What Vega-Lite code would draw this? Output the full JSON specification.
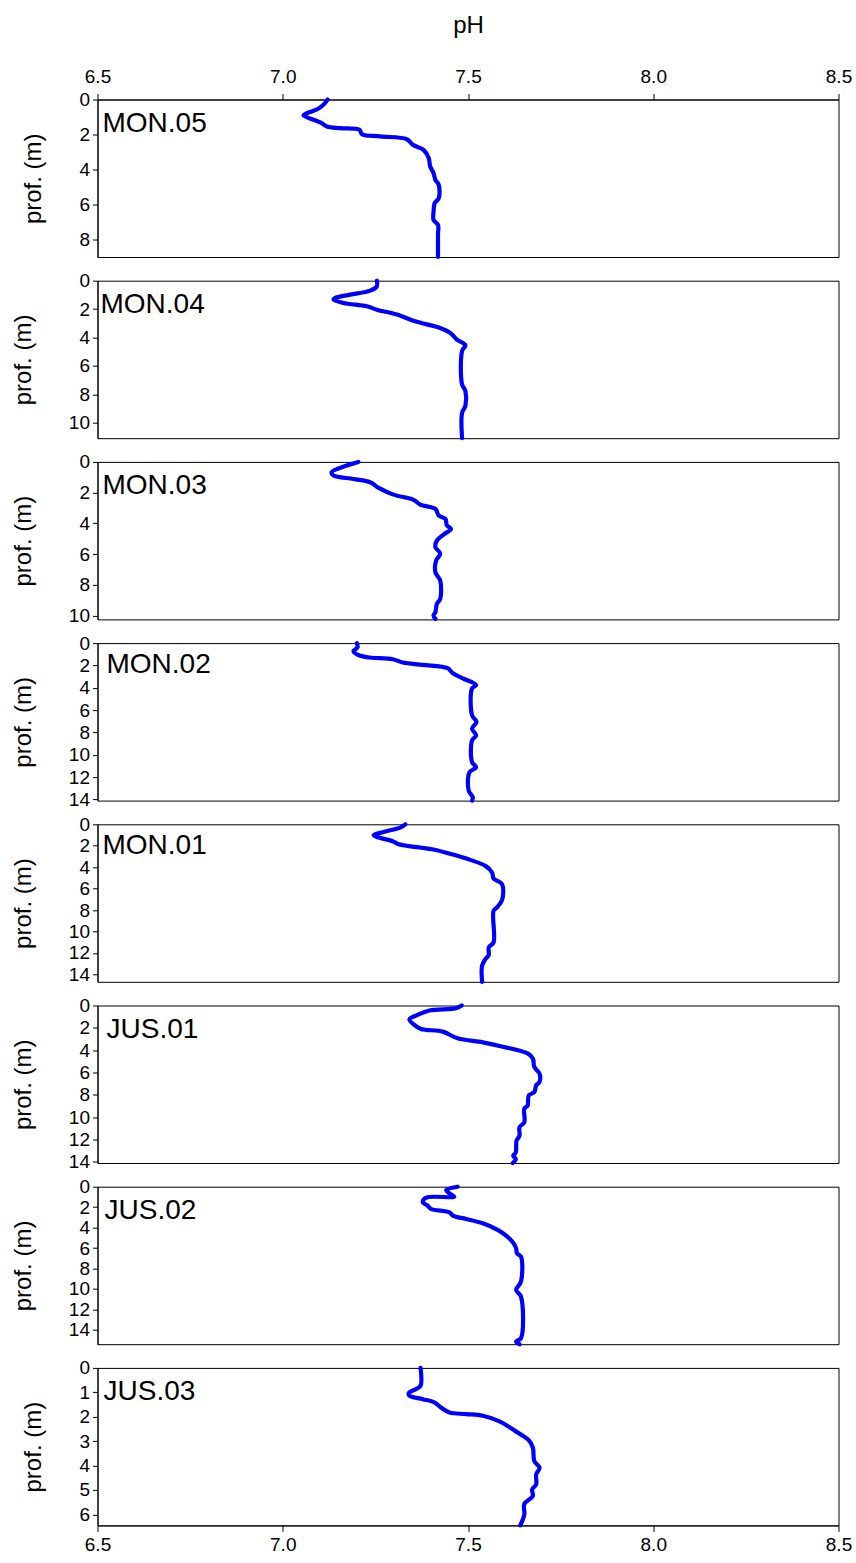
{
  "$schema": "https://vega.github.io/schema/vega-lite/v6.json",
  "padding": {"left": 10.5, "top": 12.5, "right": 5, "bottom": 5},
  "spacing": 23.2,
  "bounds": "flush",
  "config": {
    "font": "Liberation Sans",
    "view": {"stroke": "#000000", "strokeWidth": 1},
    "axis": {
      "grid": false,
      "labelFont": "Liberation Sans",
      "titleFont": "Liberation Sans",
      "labelFontSize": 19,
      "titleFontSize": 24,
      "titleFontWeight": "normal",
      "labelColor": "#000000",
      "titleColor": "#000000",
      "domainColor": "#000000",
      "tickColor": "#000000",
      "labelOverlap": false
    },
    "axisY": {"tickSize": 5, "labelPadding": 3, "titlePadding": 33},
    "axisX": {"tickSize": 6, "labelPadding": 4, "labelFlush": false},
    "line": {"interpolate": "catmull-rom"}
  },
  "datasets": {
    "profiles": [
      {"site": "MON.05", "depth": 0, "pH": 7.121},
      {"site": "MON.05", "depth": 0.21, "pH": 7.114},
      {"site": "MON.05", "depth": 0.53, "pH": 7.096},
      {"site": "MON.05", "depth": 0.78, "pH": 7.065},
      {"site": "MON.05", "depth": 0.91, "pH": 7.056},
      {"site": "MON.05", "depth": 1.16, "pH": 7.083},
      {"site": "MON.05", "depth": 1.35, "pH": 7.105},
      {"site": "MON.05", "depth": 1.54, "pH": 7.119},
      {"site": "MON.05", "depth": 1.64, "pH": 7.155},
      {"site": "MON.05", "depth": 1.73, "pH": 7.207},
      {"site": "MON.05", "depth": 1.98, "pH": 7.214},
      {"site": "MON.05", "depth": 2.11, "pH": 7.263},
      {"site": "MON.05", "depth": 2.27, "pH": 7.335},
      {"site": "MON.05", "depth": 2.59, "pH": 7.351},
      {"site": "MON.05", "depth": 2.88, "pH": 7.38},
      {"site": "MON.05", "depth": 3.35, "pH": 7.394},
      {"site": "MON.05", "depth": 3.83, "pH": 7.398},
      {"site": "MON.05", "depth": 4.21, "pH": 7.407},
      {"site": "MON.05", "depth": 4.59, "pH": 7.412},
      {"site": "MON.05", "depth": 4.88, "pH": 7.421},
      {"site": "MON.05", "depth": 5.64, "pH": 7.421},
      {"site": "MON.05", "depth": 5.92, "pH": 7.41},
      {"site": "MON.05", "depth": 6.4, "pH": 7.407},
      {"site": "MON.05", "depth": 6.88, "pH": 7.407},
      {"site": "MON.05", "depth": 7.16, "pH": 7.419},
      {"site": "MON.05", "depth": 7.73, "pH": 7.419},
      {"site": "MON.05", "depth": 9.0, "pH": 7.419},

      {"site": "MON.04", "depth": 0, "pH": 7.254},
      {"site": "MON.04", "depth": 0.4, "pH": 7.254},
      {"site": "MON.04", "depth": 0.7, "pH": 7.236},
      {"site": "MON.04", "depth": 0.98, "pH": 7.182},
      {"site": "MON.04", "depth": 1.22, "pH": 7.141},
      {"site": "MON.04", "depth": 1.33, "pH": 7.137},
      {"site": "MON.04", "depth": 1.57, "pH": 7.164},
      {"site": "MON.04", "depth": 1.8, "pH": 7.227},
      {"site": "MON.04", "depth": 2.04, "pH": 7.254},
      {"site": "MON.04", "depth": 2.39, "pH": 7.308},
      {"site": "MON.04", "depth": 2.9, "pH": 7.362},
      {"site": "MON.04", "depth": 3.33, "pH": 7.425},
      {"site": "MON.04", "depth": 3.68, "pH": 7.452},
      {"site": "MON.04", "depth": 4.15, "pH": 7.47},
      {"site": "MON.04", "depth": 4.54, "pH": 7.493},
      {"site": "MON.04", "depth": 4.96, "pH": 7.484},
      {"site": "MON.04", "depth": 7.31, "pH": 7.484},
      {"site": "MON.04", "depth": 7.78, "pH": 7.493},
      {"site": "MON.04", "depth": 8.83, "pH": 7.493},
      {"site": "MON.04", "depth": 9.3, "pH": 7.484},
      {"site": "MON.04", "depth": 11.1, "pH": 7.484},

      {"site": "MON.03", "depth": 0, "pH": 7.204},
      {"site": "MON.03", "depth": 0.24, "pH": 7.173},
      {"site": "MON.03", "depth": 0.67, "pH": 7.132},
      {"site": "MON.03", "depth": 0.89, "pH": 7.137},
      {"site": "MON.03", "depth": 1.11, "pH": 7.191},
      {"site": "MON.03", "depth": 1.32, "pH": 7.236},
      {"site": "MON.03", "depth": 1.69, "pH": 7.259},
      {"site": "MON.03", "depth": 2.13, "pH": 7.299},
      {"site": "MON.03", "depth": 2.47, "pH": 7.353},
      {"site": "MON.03", "depth": 2.78, "pH": 7.371},
      {"site": "MON.03", "depth": 3.06, "pH": 7.412},
      {"site": "MON.03", "depth": 3.49, "pH": 7.421},
      {"site": "MON.03", "depth": 3.71, "pH": 7.439},
      {"site": "MON.03", "depth": 4.14, "pH": 7.443},
      {"site": "MON.03", "depth": 4.36, "pH": 7.454},
      {"site": "MON.03", "depth": 4.73, "pH": 7.434},
      {"site": "MON.03", "depth": 5.12, "pH": 7.416},
      {"site": "MON.03", "depth": 5.55, "pH": 7.412},
      {"site": "MON.03", "depth": 5.97, "pH": 7.425},
      {"site": "MON.03", "depth": 6.42, "pH": 7.414},
      {"site": "MON.03", "depth": 7.18, "pH": 7.412},
      {"site": "MON.03", "depth": 7.72, "pH": 7.425},
      {"site": "MON.03", "depth": 8.92, "pH": 7.425},
      {"site": "MON.03", "depth": 9.24, "pH": 7.416},
      {"site": "MON.03", "depth": 9.78, "pH": 7.412},
      {"site": "MON.03", "depth": 10.0, "pH": 7.407},
      {"site": "MON.03", "depth": 10.22, "pH": 7.412},

      {"site": "MON.02", "depth": 0, "pH": 7.2},
      {"site": "MON.02", "depth": 0.36, "pH": 7.202},
      {"site": "MON.02", "depth": 0.75, "pH": 7.191},
      {"site": "MON.02", "depth": 1.11, "pH": 7.207},
      {"site": "MON.02", "depth": 1.29, "pH": 7.234},
      {"site": "MON.02", "depth": 1.44, "pH": 7.297},
      {"site": "MON.02", "depth": 1.74, "pH": 7.324},
      {"site": "MON.02", "depth": 1.95, "pH": 7.378},
      {"site": "MON.02", "depth": 2.25, "pH": 7.445},
      {"site": "MON.02", "depth": 2.7, "pH": 7.459},
      {"site": "MON.02", "depth": 3.15, "pH": 7.486},
      {"site": "MON.02", "depth": 3.75, "pH": 7.522},
      {"site": "MON.02", "depth": 4.05, "pH": 7.511},
      {"site": "MON.02", "depth": 6.46, "pH": 7.511},
      {"site": "MON.02", "depth": 7.06, "pH": 7.523},
      {"site": "MON.02", "depth": 7.66, "pH": 7.511},
      {"site": "MON.02", "depth": 8.26, "pH": 7.522},
      {"site": "MON.02", "depth": 8.71, "pH": 7.511},
      {"site": "MON.02", "depth": 10.66, "pH": 7.511},
      {"site": "MON.02", "depth": 11.11, "pH": 7.522},
      {"site": "MON.02", "depth": 11.56, "pH": 7.504},
      {"site": "MON.02", "depth": 13.21, "pH": 7.502},
      {"site": "MON.02", "depth": 13.81, "pH": 7.513},
      {"site": "MON.02", "depth": 14.1, "pH": 7.511},

      {"site": "MON.01", "depth": 0, "pH": 7.331},
      {"site": "MON.01", "depth": 0.31, "pH": 7.317},
      {"site": "MON.01", "depth": 0.71, "pH": 7.272},
      {"site": "MON.01", "depth": 1.02, "pH": 7.245},
      {"site": "MON.01", "depth": 1.24, "pH": 7.259},
      {"site": "MON.01", "depth": 1.55, "pH": 7.295},
      {"site": "MON.01", "depth": 1.86, "pH": 7.313},
      {"site": "MON.01", "depth": 2.33, "pH": 7.403},
      {"site": "MON.01", "depth": 2.8, "pH": 7.457},
      {"site": "MON.01", "depth": 3.32, "pH": 7.506},
      {"site": "MON.01", "depth": 3.88, "pH": 7.547},
      {"site": "MON.01", "depth": 4.5, "pH": 7.565},
      {"site": "MON.01", "depth": 5.06, "pH": 7.569},
      {"site": "MON.01", "depth": 5.59, "pH": 7.592},
      {"site": "MON.01", "depth": 7.05, "pH": 7.592},
      {"site": "MON.01", "depth": 7.76, "pH": 7.578},
      {"site": "MON.01", "depth": 8.07, "pH": 7.569},
      {"site": "MON.01", "depth": 11.02, "pH": 7.569},
      {"site": "MON.01", "depth": 11.49, "pH": 7.556},
      {"site": "MON.01", "depth": 12.2, "pH": 7.556},
      {"site": "MON.01", "depth": 12.58, "pH": 7.547},
      {"site": "MON.01", "depth": 13.2, "pH": 7.538},
      {"site": "MON.01", "depth": 14.7, "pH": 7.538},

      {"site": "JUS.01", "depth": 0, "pH": 7.483},
      {"site": "JUS.01", "depth": 0.24, "pH": 7.468},
      {"site": "JUS.01", "depth": 0.45, "pH": 7.396},
      {"site": "JUS.01", "depth": 0.84, "pH": 7.364},
      {"site": "JUS.01", "depth": 1.23, "pH": 7.342},
      {"site": "JUS.01", "depth": 1.74, "pH": 7.355},
      {"site": "JUS.01", "depth": 2.1, "pH": 7.373},
      {"site": "JUS.01", "depth": 2.34, "pH": 7.432},
      {"site": "JUS.01", "depth": 2.94, "pH": 7.472},
      {"site": "JUS.01", "depth": 3.3, "pH": 7.54},
      {"site": "JUS.01", "depth": 3.69, "pH": 7.594},
      {"site": "JUS.01", "depth": 4.29, "pH": 7.661},
      {"site": "JUS.01", "depth": 4.74, "pH": 7.675},
      {"site": "JUS.01", "depth": 5.5, "pH": 7.679},
      {"site": "JUS.01", "depth": 6.1, "pH": 7.693},
      {"site": "JUS.01", "depth": 6.85, "pH": 7.693},
      {"site": "JUS.01", "depth": 7.15, "pH": 7.684},
      {"site": "JUS.01", "depth": 7.75, "pH": 7.679},
      {"site": "JUS.01", "depth": 8.05, "pH": 7.664},
      {"site": "JUS.01", "depth": 8.95, "pH": 7.661},
      {"site": "JUS.01", "depth": 9.25, "pH": 7.652},
      {"site": "JUS.01", "depth": 10.45, "pH": 7.652},
      {"site": "JUS.01", "depth": 10.9, "pH": 7.639},
      {"site": "JUS.01", "depth": 11.65, "pH": 7.639},
      {"site": "JUS.01", "depth": 12.1, "pH": 7.631},
      {"site": "JUS.01", "depth": 13.15, "pH": 7.629},
      {"site": "JUS.01", "depth": 13.45, "pH": 7.622},
      {"site": "JUS.01", "depth": 13.75, "pH": 7.629},
      {"site": "JUS.01", "depth": 14.1, "pH": 7.621},

      {"site": "JUS.02", "depth": 0, "pH": 7.472},
      {"site": "JUS.02", "depth": 0.33, "pH": 7.441},
      {"site": "JUS.02", "depth": 0.65, "pH": 7.45},
      {"site": "JUS.02", "depth": 0.98, "pH": 7.463},
      {"site": "JUS.02", "depth": 1.07, "pH": 7.387},
      {"site": "JUS.02", "depth": 1.53, "pH": 7.378},
      {"site": "JUS.02", "depth": 1.86, "pH": 7.391},
      {"site": "JUS.02", "depth": 2.18, "pH": 7.4},
      {"site": "JUS.02", "depth": 2.51, "pH": 7.45},
      {"site": "JUS.02", "depth": 2.83, "pH": 7.459},
      {"site": "JUS.02", "depth": 3.16, "pH": 7.495},
      {"site": "JUS.02", "depth": 3.58, "pH": 7.54},
      {"site": "JUS.02", "depth": 4.23, "pH": 7.58},
      {"site": "JUS.02", "depth": 4.79, "pH": 7.603},
      {"site": "JUS.02", "depth": 5.44, "pH": 7.621},
      {"site": "JUS.02", "depth": 6.03, "pH": 7.63},
      {"site": "JUS.02", "depth": 6.51, "pH": 7.632},
      {"site": "JUS.02", "depth": 6.84, "pH": 7.643},
      {"site": "JUS.02", "depth": 9.28, "pH": 7.643},
      {"site": "JUS.02", "depth": 10.1, "pH": 7.63},
      {"site": "JUS.02", "depth": 10.75, "pH": 7.643},
      {"site": "JUS.02", "depth": 14.82, "pH": 7.643},
      {"site": "JUS.02", "depth": 15.15, "pH": 7.63},
      {"site": "JUS.02", "depth": 15.4, "pH": 7.639},

      {"site": "JUS.03", "depth": 0, "pH": 7.372},
      {"site": "JUS.03", "depth": 0.73, "pH": 7.372},
      {"site": "JUS.03", "depth": 0.86, "pH": 7.36},
      {"site": "JUS.03", "depth": 1.04, "pH": 7.34},
      {"site": "JUS.03", "depth": 1.14, "pH": 7.342},
      {"site": "JUS.03", "depth": 1.28, "pH": 7.378},
      {"site": "JUS.03", "depth": 1.41, "pH": 7.409},
      {"site": "JUS.03", "depth": 1.62, "pH": 7.427},
      {"site": "JUS.03", "depth": 1.83, "pH": 7.45},
      {"site": "JUS.03", "depth": 1.89, "pH": 7.495},
      {"site": "JUS.03", "depth": 1.96, "pH": 7.54},
      {"site": "JUS.03", "depth": 2.19, "pH": 7.585},
      {"site": "JUS.03", "depth": 2.61, "pH": 7.63},
      {"site": "JUS.03", "depth": 2.96, "pH": 7.664},
      {"site": "JUS.03", "depth": 3.26, "pH": 7.675},
      {"site": "JUS.03", "depth": 3.81, "pH": 7.679},
      {"site": "JUS.03", "depth": 4.09, "pH": 7.693},
      {"site": "JUS.03", "depth": 4.36, "pH": 7.684},
      {"site": "JUS.03", "depth": 4.77, "pH": 7.684},
      {"site": "JUS.03", "depth": 4.98, "pH": 7.673},
      {"site": "JUS.03", "depth": 5.25, "pH": 7.675},
      {"site": "JUS.03", "depth": 5.57, "pH": 7.652},
      {"site": "JUS.03", "depth": 6.01, "pH": 7.652},
      {"site": "JUS.03", "depth": 6.45, "pH": 7.641}
    ]
  },
  "vconcat": [
    {
      "width": 741, "height": 157.5,
      "layer": [
        {
          "data": {"name": "profiles"},
          "transform": [{"filter": "datum.site === 'MON.05'"}],
          "mark": {"type": "line", "color": "#0000ff", "strokeWidth": 4.2, "strokeJoin": "round", "strokeCap": "round"},
          "encoding": {
            "x": {"field": "pH", "type": "quantitative", "scale": {"domain": [6.5, 8.5], "nice": false, "zero": false},
                  "axis": {"orient": "top", "title": "pH", "values": [6.5, 7, 7.5, 8, 8.5], "format": ".1f", "labelPadding": 7, "titleY": -74, "titleBaseline": "middle"}},
            "y": {"field": "depth", "type": "quantitative", "scale": {"domain": [0, 9], "nice": false, "reverse": true},
                  "axis": {"title": "prof. (m)", "values": [0, 2, 4, 6, 8]}},
            "order": {"field": "depth"}
          }
        },
        {
          "data": {"values": [{"site": "MON.05"}]},
          "mark": {"type": "text", "align": "left", "baseline": "top", "fontSize": 28, "dx": 5, "dy": 10, "color": "#000000"},
          "encoding": {
            "x": {"datum": 6.5, "type": "quantitative",
                  "axis": {"orient": "top", "title": "pH", "values": [6.5, 7, 7.5, 8, 8.5], "format": ".1f", "labelPadding": 7, "titleY": -74, "titleBaseline": "middle"}},
            "y": {"datum": 0, "type": "quantitative", "axis": {"title": "prof. (m)", "values": [0, 2, 4, 6, 8]}},
            "text": {"field": "site"}
          }
        }
      ]
    },
    {
      "width": 741, "height": 157.5,
      "layer": [
        {
          "data": {"name": "profiles"},
          "transform": [{"filter": "datum.site === 'MON.04'"}],
          "mark": {"type": "line", "color": "#0000ff", "strokeWidth": 4.2, "strokeJoin": "round", "strokeCap": "round"},
          "encoding": {
            "x": {"field": "pH", "type": "quantitative", "scale": {"domain": [6.5, 8.5], "nice": false, "zero": false}, "axis": null},
            "y": {"field": "depth", "type": "quantitative", "scale": {"domain": [0, 11.1], "nice": false, "reverse": true},
                  "axis": {"title": "prof. (m)", "values": [0, 2, 4, 6, 8, 10]}},
            "order": {"field": "depth"}
          }
        },
        {
          "data": {"values": [{"site": "MON.04"}]},
          "mark": {"type": "text", "align": "left", "baseline": "top", "fontSize": 28, "dx": 3, "dy": 10, "color": "#000000"},
          "encoding": {
            "x": {"datum": 6.5, "type": "quantitative", "axis": null},
            "y": {"datum": 0, "type": "quantitative", "axis": {"title": "prof. (m)", "values": [0, 2, 4, 6, 8, 10]}},
            "text": {"field": "site"}
          }
        }
      ]
    },
    {
      "width": 741, "height": 157.5,
      "layer": [
        {
          "data": {"name": "profiles"},
          "transform": [{"filter": "datum.site === 'MON.03'"}],
          "mark": {"type": "line", "color": "#0000ff", "strokeWidth": 4.2, "strokeJoin": "round", "strokeCap": "round"},
          "encoding": {
            "x": {"field": "pH", "type": "quantitative", "scale": {"domain": [6.5, 8.5], "nice": false, "zero": false}, "axis": null},
            "y": {"field": "depth", "type": "quantitative", "scale": {"domain": [0, 10.25], "nice": false, "reverse": true},
                  "axis": {"title": "prof. (m)", "values": [0, 2, 4, 6, 8, 10]}},
            "order": {"field": "depth"}
          }
        },
        {
          "data": {"values": [{"site": "MON.03"}]},
          "mark": {"type": "text", "align": "left", "baseline": "top", "fontSize": 28, "dx": 5, "dy": 10, "color": "#000000"},
          "encoding": {
            "x": {"datum": 6.5, "type": "quantitative", "axis": null},
            "y": {"datum": 0, "type": "quantitative", "axis": {"title": "prof. (m)", "values": [0, 2, 4, 6, 8, 10]}},
            "text": {"field": "site"}
          }
        }
      ]
    },
    {
      "width": 741, "height": 157.5,
      "layer": [
        {
          "data": {"name": "profiles"},
          "transform": [{"filter": "datum.site === 'MON.02'"}],
          "mark": {"type": "line", "color": "#0000ff", "strokeWidth": 4.2, "strokeJoin": "round", "strokeCap": "round"},
          "encoding": {
            "x": {"field": "pH", "type": "quantitative", "scale": {"domain": [6.5, 8.5], "nice": false, "zero": false}, "axis": null},
            "y": {"field": "depth", "type": "quantitative", "scale": {"domain": [0, 14.1], "nice": false, "reverse": true},
                  "axis": {"title": "prof. (m)", "values": [0, 2, 4, 6, 8, 10, 12, 14]}},
            "order": {"field": "depth"}
          }
        },
        {
          "data": {"values": [{"site": "MON.02"}]},
          "mark": {"type": "text", "align": "left", "baseline": "top", "fontSize": 28, "dx": 9, "dy": 8, "color": "#000000"},
          "encoding": {
            "x": {"datum": 6.5, "type": "quantitative", "axis": null},
            "y": {"datum": 0, "type": "quantitative", "axis": {"title": "prof. (m)", "values": [0, 2, 4, 6, 8, 10, 12, 14]}},
            "text": {"field": "site"}
          }
        }
      ]
    },
    {
      "width": 741, "height": 157.5,
      "layer": [
        {
          "data": {"name": "profiles"},
          "transform": [{"filter": "datum.site === 'MON.01'"}],
          "mark": {"type": "line", "color": "#0000ff", "strokeWidth": 4.2, "strokeJoin": "round", "strokeCap": "round"},
          "encoding": {
            "x": {"field": "pH", "type": "quantitative", "scale": {"domain": [6.5, 8.5], "nice": false, "zero": false}, "axis": null},
            "y": {"field": "depth", "type": "quantitative", "scale": {"domain": [0, 14.7], "nice": false, "reverse": true},
                  "axis": {"title": "prof. (m)", "values": [0, 2, 4, 6, 8, 10, 12, 14]}},
            "order": {"field": "depth"}
          }
        },
        {
          "data": {"values": [{"site": "MON.01"}]},
          "mark": {"type": "text", "align": "left", "baseline": "top", "fontSize": 28, "dx": 5, "dy": 8, "color": "#000000"},
          "encoding": {
            "x": {"datum": 6.5, "type": "quantitative", "axis": null},
            "y": {"datum": 0, "type": "quantitative", "axis": {"title": "prof. (m)", "values": [0, 2, 4, 6, 8, 10, 12, 14]}},
            "text": {"field": "site"}
          }
        }
      ]
    },
    {
      "width": 741, "height": 157.5,
      "layer": [
        {
          "data": {"name": "profiles"},
          "transform": [{"filter": "datum.site === 'JUS.01'"}],
          "mark": {"type": "line", "color": "#0000ff", "strokeWidth": 4.2, "strokeJoin": "round", "strokeCap": "round"},
          "encoding": {
            "x": {"field": "pH", "type": "quantitative", "scale": {"domain": [6.5, 8.5], "nice": false, "zero": false}, "axis": null},
            "y": {"field": "depth", "type": "quantitative", "scale": {"domain": [0, 14.1], "nice": false, "reverse": true},
                  "axis": {"title": "prof. (m)", "values": [0, 2, 4, 6, 8, 10, 12, 14]}},
            "order": {"field": "depth"}
          }
        },
        {
          "data": {"values": [{"site": "JUS.01"}]},
          "mark": {"type": "text", "align": "left", "baseline": "top", "fontSize": 28, "dx": 9, "dy": 10, "color": "#000000"},
          "encoding": {
            "x": {"datum": 6.5, "type": "quantitative", "axis": null},
            "y": {"datum": 0, "type": "quantitative", "axis": {"title": "prof. (m)", "values": [0, 2, 4, 6, 8, 10, 12, 14]}},
            "text": {"field": "site"}
          }
        }
      ]
    },
    {
      "width": 741, "height": 157.5,
      "layer": [
        {
          "data": {"name": "profiles"},
          "transform": [{"filter": "datum.site === 'JUS.02'"}],
          "mark": {"type": "line", "color": "#0000ff", "strokeWidth": 4.2, "strokeJoin": "round", "strokeCap": "round"},
          "encoding": {
            "x": {"field": "pH", "type": "quantitative", "scale": {"domain": [6.5, 8.5], "nice": false, "zero": false}, "axis": null},
            "y": {"field": "depth", "type": "quantitative", "scale": {"domain": [0, 15.4], "nice": false, "reverse": true},
                  "axis": {"title": "prof. (m)", "values": [0, 2, 4, 6, 8, 10, 12, 14]}},
            "order": {"field": "depth"}
          }
        },
        {
          "data": {"values": [{"site": "JUS.02"}]},
          "mark": {"type": "text", "align": "left", "baseline": "top", "fontSize": 28, "dx": 7, "dy": 10, "color": "#000000"},
          "encoding": {
            "x": {"datum": 6.5, "type": "quantitative", "axis": null},
            "y": {"datum": 0, "type": "quantitative", "axis": {"title": "prof. (m)", "values": [0, 2, 4, 6, 8, 10, 12, 14]}},
            "text": {"field": "site"}
          }
        }
      ]
    },
    {
      "width": 741, "height": 157.5,
      "layer": [
        {
          "data": {"name": "profiles"},
          "transform": [{"filter": "datum.site === 'JUS.03'"}],
          "mark": {"type": "line", "color": "#0000ff", "strokeWidth": 4.2, "strokeJoin": "round", "strokeCap": "round"},
          "encoding": {
            "x": {"field": "pH", "type": "quantitative", "scale": {"domain": [6.5, 8.5], "nice": false, "zero": false},
                  "axis": {"orient": "bottom", "title": null, "values": [6.5, 7, 7.5, 8, 8.5], "format": ".1f"}},
            "y": {"field": "depth", "type": "quantitative", "scale": {"domain": [0, 6.45], "nice": false, "reverse": true},
                  "axis": {"title": "prof. (m)", "values": [0, 1, 2, 3, 4, 5, 6]}},
            "order": {"field": "depth"}
          }
        },
        {
          "data": {"values": [{"site": "JUS.03"}]},
          "mark": {"type": "text", "align": "left", "baseline": "top", "fontSize": 28, "dx": 6, "dy": 10, "color": "#000000"},
          "encoding": {
            "x": {"datum": 6.5, "type": "quantitative",
                  "axis": {"orient": "bottom", "title": null, "values": [6.5, 7, 7.5, 8, 8.5], "format": ".1f"}},
            "y": {"datum": 0, "type": "quantitative", "axis": {"title": "prof. (m)", "values": [0, 1, 2, 3, 4, 5, 6]}},
            "text": {"field": "site"}
          }
        }
      ]
    }
  ]
}
